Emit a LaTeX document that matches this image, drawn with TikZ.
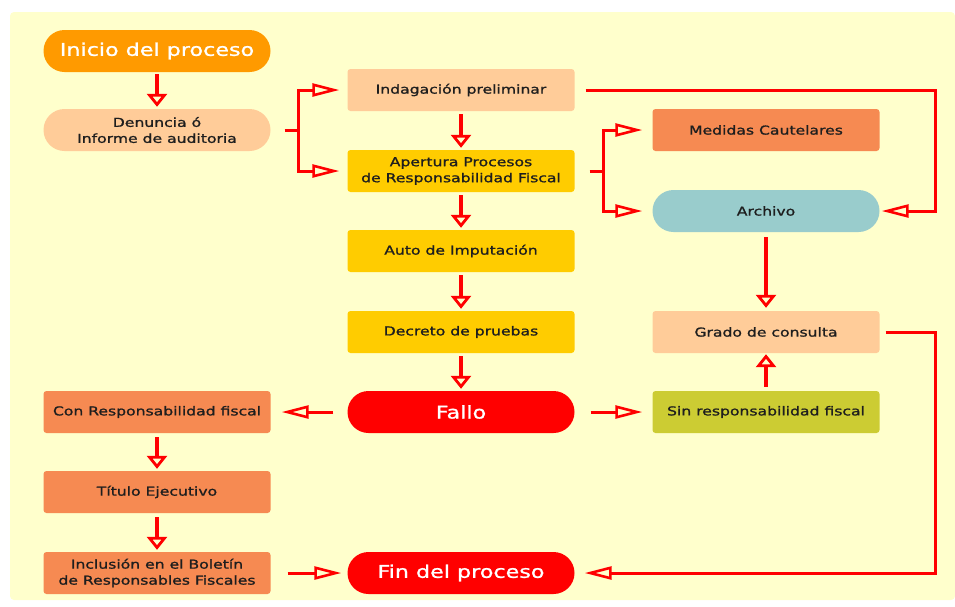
\documentclass[tikz,border=0pt]{standalone}
\usepackage{fontspec}
\setmainfont{DejaVu Sans}[FakeStretch=1.27, FakeBold=1.2]
\usepackage{tikz}
\usetikzlibrary{arrows.meta}

\definecolor{paper}{HTML}{FFFFCC}
\definecolor{ink}{HTML}{1E1E1E}
\definecolor{startorange}{HTML}{FF9A00}
\definecolor{peach}{HTML}{FFCC99}
\definecolor{gold}{HTML}{FFCC00}
\definecolor{salmon}{HTML}{F68A52}
\definecolor{teal}{HTML}{99CCCC}
\definecolor{olive}{HTML}{CCCC33}

\begin{document}
\begin{tikzpicture}[x=1pt, y=-1pt]
    \tikzstyle{box}=[
        rectangle,
        rounded corners = 3pt,
        minimum width = 227pt,
        minimum height = 42pt,
        inner sep = 0pt,
        align = center,
        text = ink,
        font = \fontsize{12.3}{16}\selectfont
    ]
    \tikzstyle{pill}=[
        box,
        rounded corners = 21pt
    ]
    \tikzstyle{big pill}=[
        pill,
        text = white,
        font = \fontsize{17.5}{20}\selectfont
    ]
    \tikzstyle{line}=[
        draw = red,
        line width = 3pt
    ]
    \tikzstyle{flowh}=[line, -{Triangle[open, length=27pt, width=13pt, line width=2.6pt]}]
    \tikzstyle{flowv}=[line, line width=3.8pt, -{Triangle[open, length=13pt, width=20pt, line width=2.8pt]}]

    \useasboundingbox (0,0) rectangle (955,606);
    \fill[paper, rounded corners=4pt] (10,12) rectangle (955,600);

    % left column
    \node[big pill, fill=startorange] (inicio)    at (157, 51)  {Inicio del proceso};
    \node[pill, fill=peach]           (denuncia)  at (157, 130) {Denuncia ó\\Informe de auditoria};
    \node[box, fill=salmon]           (con)       at (157, 412) {Con Responsabilidad fiscal};
    \node[box, fill=salmon]           (titulo)    at (157, 492) {Título Ejecutivo};
    \node[box, fill=salmon]           (inclusion) at (157, 573) {Inclusión en el Boletín\\de Responsables Fiscales};

    % middle column
    \node[box, fill=peach]            (indag)     at (461, 90)  {Indagación preliminar};
    \node[box, fill=gold]             (apertura)  at (461, 171) {Apertura Procesos\\de Responsabilidad Fiscal};
    \node[box, fill=gold]             (auto)      at (461, 251) {Auto de Imputación};
    \node[box, fill=gold]             (decreto)   at (461, 332) {Decreto de pruebas};
    \node[big pill, fill=red]         (fallo)     at (461, 412) {Fallo};
    \node[big pill, fill=red]         (fin)       at (461, 573) {Fin del proceso};

    % right column
    \node[box, fill=salmon]           (medidas)   at (766, 130) {Medidas Cautelares};
    \node[pill, fill=teal]            (archivo)   at (766, 211) {Archivo};
    \node[box, fill=peach]            (grado)     at (766, 332) {Grado de consulta};
    \node[box, fill=olive]            (sin)       at (766, 412) {Sin responsabilidad fiscal};

    \coordinate (j1) at (298, 130);
    \coordinate (j2) at (603, 171);
    \coordinate (c1) at (935, 90);
    \coordinate (c2) at (935, 211);
    \coordinate (c3) at (935, 332);
    \coordinate (c4) at (935, 573);

    \draw[flowv, shorten <=2pt, shorten >=2pt] (inicio) -- (denuncia);
    \draw[line, shorten <=14pt] (denuncia) -- (j1);
    \draw[flowh, shorten >=8pt] (j1) |- (indag);
    \draw[flowh, shorten >=8pt] (j1) |- (apertura);

    \draw[flowv, shorten <=3pt, shorten >=2pt] (indag) -- (apertura);
    \draw[flowv, shorten <=3pt, shorten >=2pt] (apertura) -- (auto);
    \draw[flowv, shorten <=3pt, shorten >=2pt] (auto) -- (decreto);
    \draw[flowv, shorten <=3pt, shorten >=2pt] (decreto) -- (fallo);

    \draw[line, shorten <=15pt] (apertura) -- (j2);
    \draw[flowh, shorten >=10pt] (j2) |- (medidas);
    \draw[flowh, shorten >=10pt] (j2) |- (archivo);
    \draw[flowh, shorten <=11pt, shorten >=2pt] (indag) -- (c1) -- (c2) -- (archivo);

    \draw[flowv, shorten <=5pt, shorten >=3pt] (archivo) -- (grado);
    \draw[flowv, shorten <=4pt, shorten >=1pt] (sin) -- (grado);
    \draw[flowh, shorten <=16pt, shorten >=10pt] (fallo) -- (sin);
    \draw[flowh, shorten <=14pt, shorten >=11pt] (fallo) -- (con);

    \draw[flowv, shorten <=4pt, shorten >=2pt] (con) -- (titulo);
    \draw[flowv, shorten <=4pt, shorten >=2pt] (titulo) -- (inclusion);
    \draw[flowh, shorten <=17pt, shorten >=6pt] (inclusion) -- (fin);
    \draw[flowh, shorten <=6pt, shorten >=10pt] (grado) -- (c3) -- (c4) -- (fin);

\end{tikzpicture}
\end{document}
